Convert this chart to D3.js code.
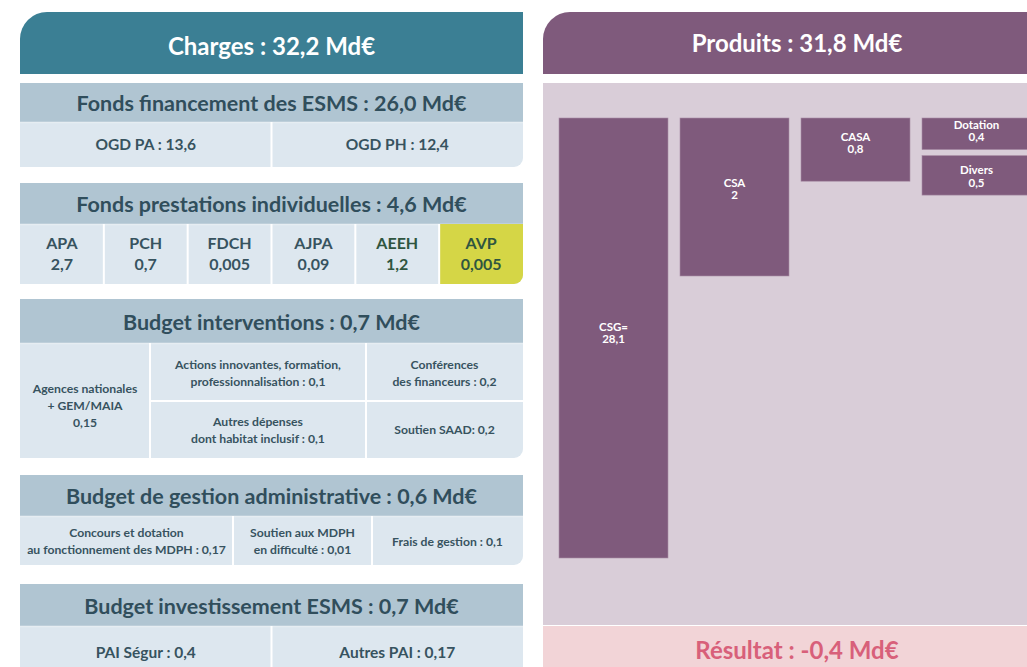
<!DOCTYPE html>
<html>
<head>
<meta charset="utf-8">
<script src="https://cdn.jsdelivr.net/npm/d3@7"></script>
<style>
  body { margin: 0; background: #ffffff; }
  svg { display: block; font-family: "Lato", "Open Sans", sans-serif; font-weight: 700; }
</style>
</head>
<body>
<svg id="chart" width="1027" height="667"></svg>
<script>
// ---------- DATA ----------
const chargesTitle = "Charges : 32,2 Md€";
const produitsTitle = "Produits : 31,8 Md€";
const resultatTitle = "Résultat : -0,4 Md€";

const sectionTitles = [
  "Fonds financement des ESMS : 26,0 Md€",
  "Fonds prestations individuelles : 4,6 Md€",
  "Budget interventions : 0,7 Md€",
  "Budget de gestion administrative : 0,6 Md€",
  "Budget investissement ESMS : 0,7 Md€"
];

const esmsLabels = ["OGD PA : 13,6", "OGD PH : 12,4"];

const prestationsNames = ["APA", "PCH", "FDCH", "AJPA", "AEEH", "AVP"];
const prestationsValues = ["2,7", "0,7", "0,005", "0,09", "1,2", "0,005"];

const interventionsLabels = [
  ["Agences nationales", "+ GEM/MAIA", "0,15"],
  ["Actions innovantes, formation,", "professionnalisation : 0,1"],
  ["Conférences", "des financeurs : 0,2"],
  ["Autres dépenses", "dont habitat inclusif : 0,1"],
  ["Soutien SAAD: 0,2"]
];

const gestionLabels = [
  ["Concours et dotation", "au fonctionnement des MDPH : 0,17"],
  ["Soutien aux MDPH", "en difficulté : 0,01"],
  ["Frais de gestion : 0,1"]
];

const investLabels = ["PAI Ségur : 0,4", "Autres PAI : 0,17"];

const produitsNames = ["CSG=", "CSA", "CASA", "Dotation", "Divers"];
const produitsValues = [28.1, 2, 0.8, 0.4, 0.5];
const produitsColumns = ["CSG", "CSA", "CASA", "Autres", "Autres"];

// ---------- STYLE ----------
const C = {
  teal: "#3b7f94",
  secHead: "#b0c5d2",
  cell: "#dde7ef",
  secText: "#304e5c",
  cellText: "#37535f",
  green: "#d5d646",
  greenText: "#2f5540",
  plum: "#7f5a7c",
  plumLight: "#d9cdd8",
  pink: "#f2d4d7",
  pinkText: "#d8607a"
};

const svg = d3.select("#chart");
const fmt = d3.formatLocale({decimal: ",", thousands: " ", grouping: [3], currency: ["", "€"]}).format(".1~f");

function rr(x, y, w, h, r) {
  const tl = r.tl || 0, tr = r.tr || 0, br = r.br || 0, bl = r.bl || 0;
  const p = d3.path();
  p.moveTo(x + tl, y);
  p.lineTo(x + w - tr, y);
  if (tr) p.arcTo(x + w, y, x + w, y + tr, tr);
  p.lineTo(x + w, y + h - br);
  if (br) p.arcTo(x + w, y + h, x + w - br, y + h, br);
  p.lineTo(x + bl, y + h);
  if (bl) p.arcTo(x, y + h, x, y + h - bl, bl);
  p.lineTo(x, y + tl);
  if (tl) p.arcTo(x, y, x + tl, y, tl);
  p.closePath();
  return p.toString();
}

function lines(g, arr, cx, cy, size, lh, color) {
  const n = arr.length;
  const t = g.append("text")
    .attr("text-anchor", "middle")
    .attr("font-size", size)
    .attr("fill", color);
  arr.forEach((s, i) => {
    t.append("tspan")
      .attr("x", cx)
      .attr("y", cy + (i - (n - 1) / 2) * lh)
      .attr("dy", "0.35em")
      .text(s);
  });
}

// ---------- LEFT PANEL ----------
const L = {x: 20, w: 503};
const left = svg.append("g");

left.append("path").attr("d", rr(L.x, 12, L.w, 62, {tl: 27})).attr("fill", C.teal);
left.append("text").attr("x", L.x + L.w / 2).attr("y", 47).attr("dy", "0.35em")
  .attr("text-anchor", "middle").attr("font-size", 24).attr("fill", "#ffffff").text(chargesTitle);

const secY = [[83, 122, 167], [183, 224, 284], [299, 343, 458], [475, 516, 565], [584, 626, 700]];

function section(i) {
  const [y0, y1, y2] = secY[i];
  const g = left.append("g");
  g.append("rect").attr("x", L.x).attr("y", y0).attr("width", L.w).attr("height", y1 - y0).attr("fill", C.secHead);
  g.append("path").attr("d", rr(L.x, y1, L.w, y2 - y1, {br: 9})).attr("fill", C.cell);
  g.append("line").attr("x1", L.x).attr("x2", L.x + L.w).attr("y1", y1 + 0.5).attr("y2", y1 + 0.5)
    .attr("stroke", "#e6edf2").attr("stroke-width", 1.5);
  g.append("text").attr("x", L.x + L.w / 2).attr("y", (y0 + y1) / 2 + 1).attr("dy", "0.35em")
    .attr("text-anchor", "middle").attr("font-size", 21.5).attr("fill", C.secText).text(sectionTitles[i]);
  return g;
}
function vline(g, x, ya, yb) {
  g.append("line").attr("x1", x).attr("x2", x).attr("y1", ya).attr("y2", yb)
    .attr("stroke", "#ffffff").attr("stroke-width", 2);
}
function hline(g, xa, xb, y) {
  g.append("line").attr("x1", xa).attr("x2", xb).attr("y1", y).attr("y2", y)
    .attr("stroke", "#ffffff").attr("stroke-width", 2);
}

// Section 1
{
  const g = section(0);
  const [y0, y1, y2] = secY[0];
  const xs = d3.scaleBand().domain(d3.range(esmsLabels.length)).range([L.x, L.x + L.w]);
  esmsLabels.forEach((s, i) => {
    if (i > 0) vline(g, xs(i), y1, y2);
    lines(g, [s], xs(i) + xs.bandwidth() / 2, (y1 + y2) / 2, 15.5, 17, C.cellText);
  });
}
// Section 2
{
  const g = section(1);
  const [y0, y1, y2] = secY[1];
  const xs = d3.scaleBand().domain(d3.range(prestationsNames.length)).range([L.x, L.x + L.w]);
  prestationsNames.forEach((n, i) => {
    const last = i === prestationsNames.length - 1;
    if (n === "AVP") {
      g.append("path").attr("d", rr(xs(i), y1, xs.bandwidth(), y2 - y1, {br: last ? 9 : 0}))
        .attr("fill", C.green);
    }
    if (i > 0) vline(g, xs(i), y1, y2);
    const col = (n === "AEEH" || n === "AVP") ? C.greenText : C.cellText;
    lines(g, [n, prestationsValues[i]], xs(i) + xs.bandwidth() / 2, (y1 + y2) / 2, 16, 21, col);
  });
}
// Section 3
{
  const g = section(2);
  const [y0, y1, y2] = secY[2];
  const xa = 150, xb = 366, ym = 401;
  vline(g, xa, y1, y2);
  vline(g, xb, y1, y2);
  hline(g, xa, L.x + L.w, ym);
  const sz = 12.2, lh = 17;
  lines(g, interventionsLabels[0], (L.x + xa) / 2, 406, sz, lh, C.cellText);
  lines(g, interventionsLabels[1], (xa + xb) / 2, (y1 + ym) / 2 + 1, sz, lh, C.cellText);
  lines(g, interventionsLabels[2], (xb + L.x + L.w) / 2, (y1 + ym) / 2 + 1, sz, lh, C.cellText);
  lines(g, interventionsLabels[3], (xa + xb) / 2, (ym + y2) / 2 + 1, sz, lh, C.cellText);
  lines(g, interventionsLabels[4], (xb + L.x + L.w) / 2, (ym + y2) / 2, sz, lh, C.cellText);
}
// Section 4
{
  const g = section(3);
  const [y0, y1, y2] = secY[3];
  const bounds = [L.x, 233, 372, L.x + L.w];
  gestionLabels.forEach((arr, i) => {
    if (i > 0) vline(g, bounds[i], y1, y2);
    lines(g, arr, (bounds[i] + bounds[i + 1]) / 2, (y1 + y2) / 2 + 1, 12.2, 17, C.cellText);
  });
}
// Section 5
{
  const g = section(4);
  const [y0, y1, y2] = secY[4];
  const xs = d3.scaleBand().domain(d3.range(investLabels.length)).range([L.x, L.x + L.w]);
  investLabels.forEach((s, i) => {
    if (i > 0) vline(g, xs(i), y1, y2);
    lines(g, [s], xs(i) + xs.bandwidth() / 2, 653, 15.5, 17, C.cellText);
  });
}

// ---------- RIGHT PANEL ----------
const R = {x: 543, w: 508};
const right = svg.append("g");
right.append("path").attr("d", rr(R.x, 12, R.w, 62, {tl: 27})).attr("fill", C.plum);
right.append("text").attr("x", R.x + R.w / 2).attr("y", 44).attr("dy", "0.35em")
  .attr("text-anchor", "middle").attr("font-size", 24).attr("fill", "#ffffff").text(produitsTitle);
right.append("rect").attr("x", R.x).attr("y", 83).attr("width", R.w).attr("height", 542).attr("fill", C.plumLight);
right.append("rect").attr("x", R.x).attr("y", 626).attr("width", R.w).attr("height", 50).attr("fill", C.pink);
right.append("text").attr("x", R.x + R.w / 2).attr("y", 651).attr("dy", "0.35em")
  .attr("text-anchor", "middle").attr("font-size", 24).attr("fill", C.pinkText).text(resultatTitle);

// bars
const barTop = 118;
const xCol = d3.scaleBand().domain(Array.from(new Set(produitsColumns)))
  .range([559, 1031]).paddingInner(12 / 121).paddingOuter(0).align(0);
const hScale = d3.scaleLinear().domain([0, 2, 28.1]).range([0, 158, 440]);
const stackGap = 6;

const offsets = {};
const bars = produitsNames.map((n, i) => {
  const col = produitsColumns[i];
  const y = barTop + (offsets[col] || 0);
  const h = hScale(produitsValues[i]);
  offsets[col] = (offsets[col] || 0) + h + stackGap;
  return {name: n, value: produitsValues[i], x: xCol(col), y, h};
});

const bg = right.append("g");
bg.selectAll("rect.bar").data(bars).join("rect")
  .attr("class", "bar")
  .attr("x", d => d.x).attr("y", d => d.y)
  .attr("width", xCol.bandwidth()).attr("height", d => d.h)
  .attr("fill", C.plum).attr("stroke", "#a88ca5").attr("stroke-width", 0.6);

bars.forEach(d => {
  const cx = d.x + xCol.bandwidth() / 2;
  let cy;
  if (d.name === "CSG=") cy = d.y + 215;
  else if (d.name === "CSA") cy = d.y + 71;
  else if (d.name === "Dotation") cy = d.y + 13;
  else if (d.name === "Divers") cy = d.y + 21;
  else cy = d.y + 25;
  lines(bg, [d.name, fmt(d.value)], cx, cy, 11.5, 12.5, "#ffffff");
});
</script>
</body>
</html>
